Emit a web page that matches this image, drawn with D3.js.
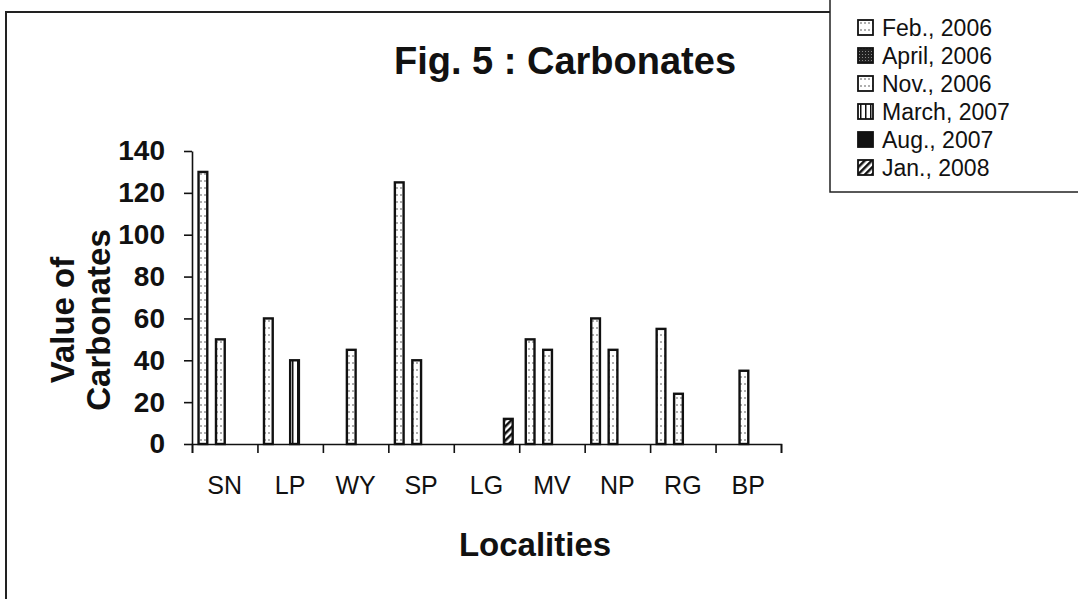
<!DOCTYPE html>
<html>
<head>
<meta charset="utf-8">
<script src="https://cdn.jsdelivr.net/npm/d3@7/dist/d3.min.js"></script>
<style>
body { margin: 0; background: #fff; }
text { font-family: "Liberation Sans", Arial, sans-serif; fill: #111; }
.axis path, .axis line { stroke: #111; stroke-width: 1.6px; }
</style>
</head>
<body>
<div id="chart"></div>
<script>
var localities = ["SN", "LP", "WY", "SP", "LG", "MV", "NP", "RG", "BP"];
var seriesNames = ["Feb., 2006", "April, 2006", "Nov., 2006", "March, 2007", "Aug., 2007", "Jan., 2008"];
var feb2006 = [130, 60, null, 125, null, 50, 60, 55, null];
var apr2006 = [null, null, null, null, null, null, null, null, null];
var nov2006 = [50, null, 45, 40, null, 45, 45, 24, 35];
var mar2007 = [null, 40, null, null, null, null, null, null, null];
var aug2007 = [null, null, null, null, null, null, null, null, null];
var jan2008 = [null, null, null, null, 12, null, null, null, null];
var yTicks = [0, 20, 40, 60, 80, 100, 120, 140];

var seriesValues = [feb2006, apr2006, nov2006, mar2007, aug2007, jan2008];
var patterns = ["url(#dots)", "url(#dark)", "url(#dots)", "url(#vline)", "#111", "url(#hatch)"];

var svg = d3.select("#chart").append("svg")
    .attr("width", 1078)
    .attr("height", 599);

var defs = svg.append("defs");

var p = defs.append("pattern").attr("id", "dots").attr("patternUnits", "userSpaceOnUse")
    .attr("width", 4).attr("height", 7);
p.append("rect").attr("width", 4).attr("height", 7).attr("fill", "#fff");
p.append("circle").attr("cx", 1).attr("cy", 2).attr("r", 0.7).attr("fill", "#222");

p = defs.append("pattern").attr("id", "dark").attr("patternUnits", "userSpaceOnUse")
    .attr("width", 3).attr("height", 3);
p.append("rect").attr("width", 3).attr("height", 3).attr("fill", "#222");
p.append("rect").attr("x", 1).attr("y", 1).attr("width", 1).attr("height", 1).attr("fill", "#888");

p = defs.append("pattern").attr("id", "vline").attr("patternUnits", "userSpaceOnUse")
    .attr("width", 5).attr("height", 5);
p.append("rect").attr("width", 5).attr("height", 5).attr("fill", "#fff");
p.append("rect").attr("x", 0).attr("width", 1.5).attr("height", 5).attr("fill", "#111");

p = defs.append("pattern").attr("id", "hatch").attr("patternUnits", "userSpaceOnUse")
    .attr("width", 5).attr("height", 5).attr("patternTransform", "rotate(45)");
p.append("rect").attr("width", 5).attr("height", 5).attr("fill", "#fff");
p.append("rect").attr("width", 2.5).attr("height", 5).attr("fill", "#111");

// outer chart frame (only left and top edges are in view)
svg.append("path")
    .attr("d", "M6,599 V12 H830")
    .attr("fill", "none")
    .attr("stroke", "#222")
    .attr("stroke-width", 2);

var margin = {left: 192, right: 297, top: 151, bottom: 155};
var width = 1078 - margin.left - margin.right,
    height = 599 - margin.top - margin.bottom;

var g = svg.append("g")
    .attr("transform", "translate(" + margin.left + "," + margin.top + ")");

var x = d3.scaleBand().domain(localities).range([0, width]).padding(0);
var xs = d3.scaleBand().domain(seriesNames).range([0, x.bandwidth()])
    .paddingInner(0).paddingOuter(0.75);
var xb = d3.scaleLinear().domain([0, localities.length]).range([0, width]);
var y = d3.scaleLinear().domain([0, 140]).range([height, 0]);

var bars = [];
seriesValues.forEach(function(vals, si) {
  vals.forEach(function(v, ci) {
    if (v != null) bars.push({series: seriesNames[si], si: si, loc: localities[ci], value: v});
  });
});

g.selectAll(".bar")
  .data(bars)
  .enter().append("rect")
    .attr("class", "bar")
    .attr("x", function(d) { return x(d.loc) + xs(d.series); })
    .attr("width", xs.bandwidth())
    .attr("y", function(d) { return y(d.value); })
    .attr("height", function(d) { return height - y(d.value); })
    .attr("fill", function(d) { return patterns[d.si]; })
    .attr("stroke", "#111")
    .attr("stroke-width", 2.4);

var yAxis = d3.axisLeft(y).tickValues(yTicks).tickSize(8).tickSizeOuter(0).tickPadding(19);
g.append("g")
    .attr("class", "axis axis--y")
    .call(yAxis)
    .selectAll("text")
      .style("font-size", "28px")
      .style("font-weight", "bold");

var xAxis = d3.axisBottom(xb).ticks(localities.length).tickFormat("").tickSize(9).tickSizeOuter(9);
g.append("g")
    .attr("class", "axis axis--x")
    .attr("transform", "translate(0," + height + ")")
    .call(xAxis);

g.append("g")
    .attr("transform", "translate(0," + height + ")")
    .call(d3.axisBottom(x).tickSize(0).tickPadding(32))
    .call(function(s) { s.select(".domain").remove(); })
    .selectAll("text")
      .style("font-size", "25px");

svg.append("text")
    .attr("x", 535)
    .attr("y", 556)
    .attr("text-anchor", "middle")
    .style("font-size", "33px")
    .style("font-weight", "bold")
    .text("Localities");

svg.append("text")
    .attr("transform", "translate(74,320) rotate(-90)")
    .attr("text-anchor", "middle")
    .style("font-size", "33px")
    .style("font-weight", "bold")
    .text("Value of");

svg.append("text")
    .attr("transform", "translate(110,320) rotate(-90)")
    .attr("text-anchor", "middle")
    .style("font-size", "33px")
    .style("font-weight", "bold")
    .text("Carbonates");

svg.append("text")
    .attr("x", 565)
    .attr("y", 74)
    .attr("text-anchor", "middle")
    .style("font-size", "38px")
    .style("font-weight", "bold")
    .text("Fig. 5 : Carbonates");

// legend
var legend = svg.append("g");
legend.append("rect")
    .attr("x", 830).attr("y", -2)
    .attr("width", 255).attr("height", 194)
    .attr("fill", "#fff")
    .attr("stroke", "#222")
    .attr("stroke-width", 1.5);

var item = legend.selectAll(".item")
  .data(seriesNames)
  .enter().append("g")
    .attr("class", "item")
    .attr("transform", function(d, i) { return "translate(0," + (28 + i * 28) + ")"; });

item.append("rect")
    .attr("x", 858).attr("y", -8)
    .attr("width", 15).attr("height", 15)
    .attr("fill", function(d, i) { return patterns[i]; })
    .attr("stroke", "#111")
    .attr("stroke-width", 1.8);

item.append("text")
    .attr("x", 882)
    .attr("dy", "0.35em")
    .style("font-size", "23px")
    .text(function(d) { return d; });
</script>
</body>
</html>
